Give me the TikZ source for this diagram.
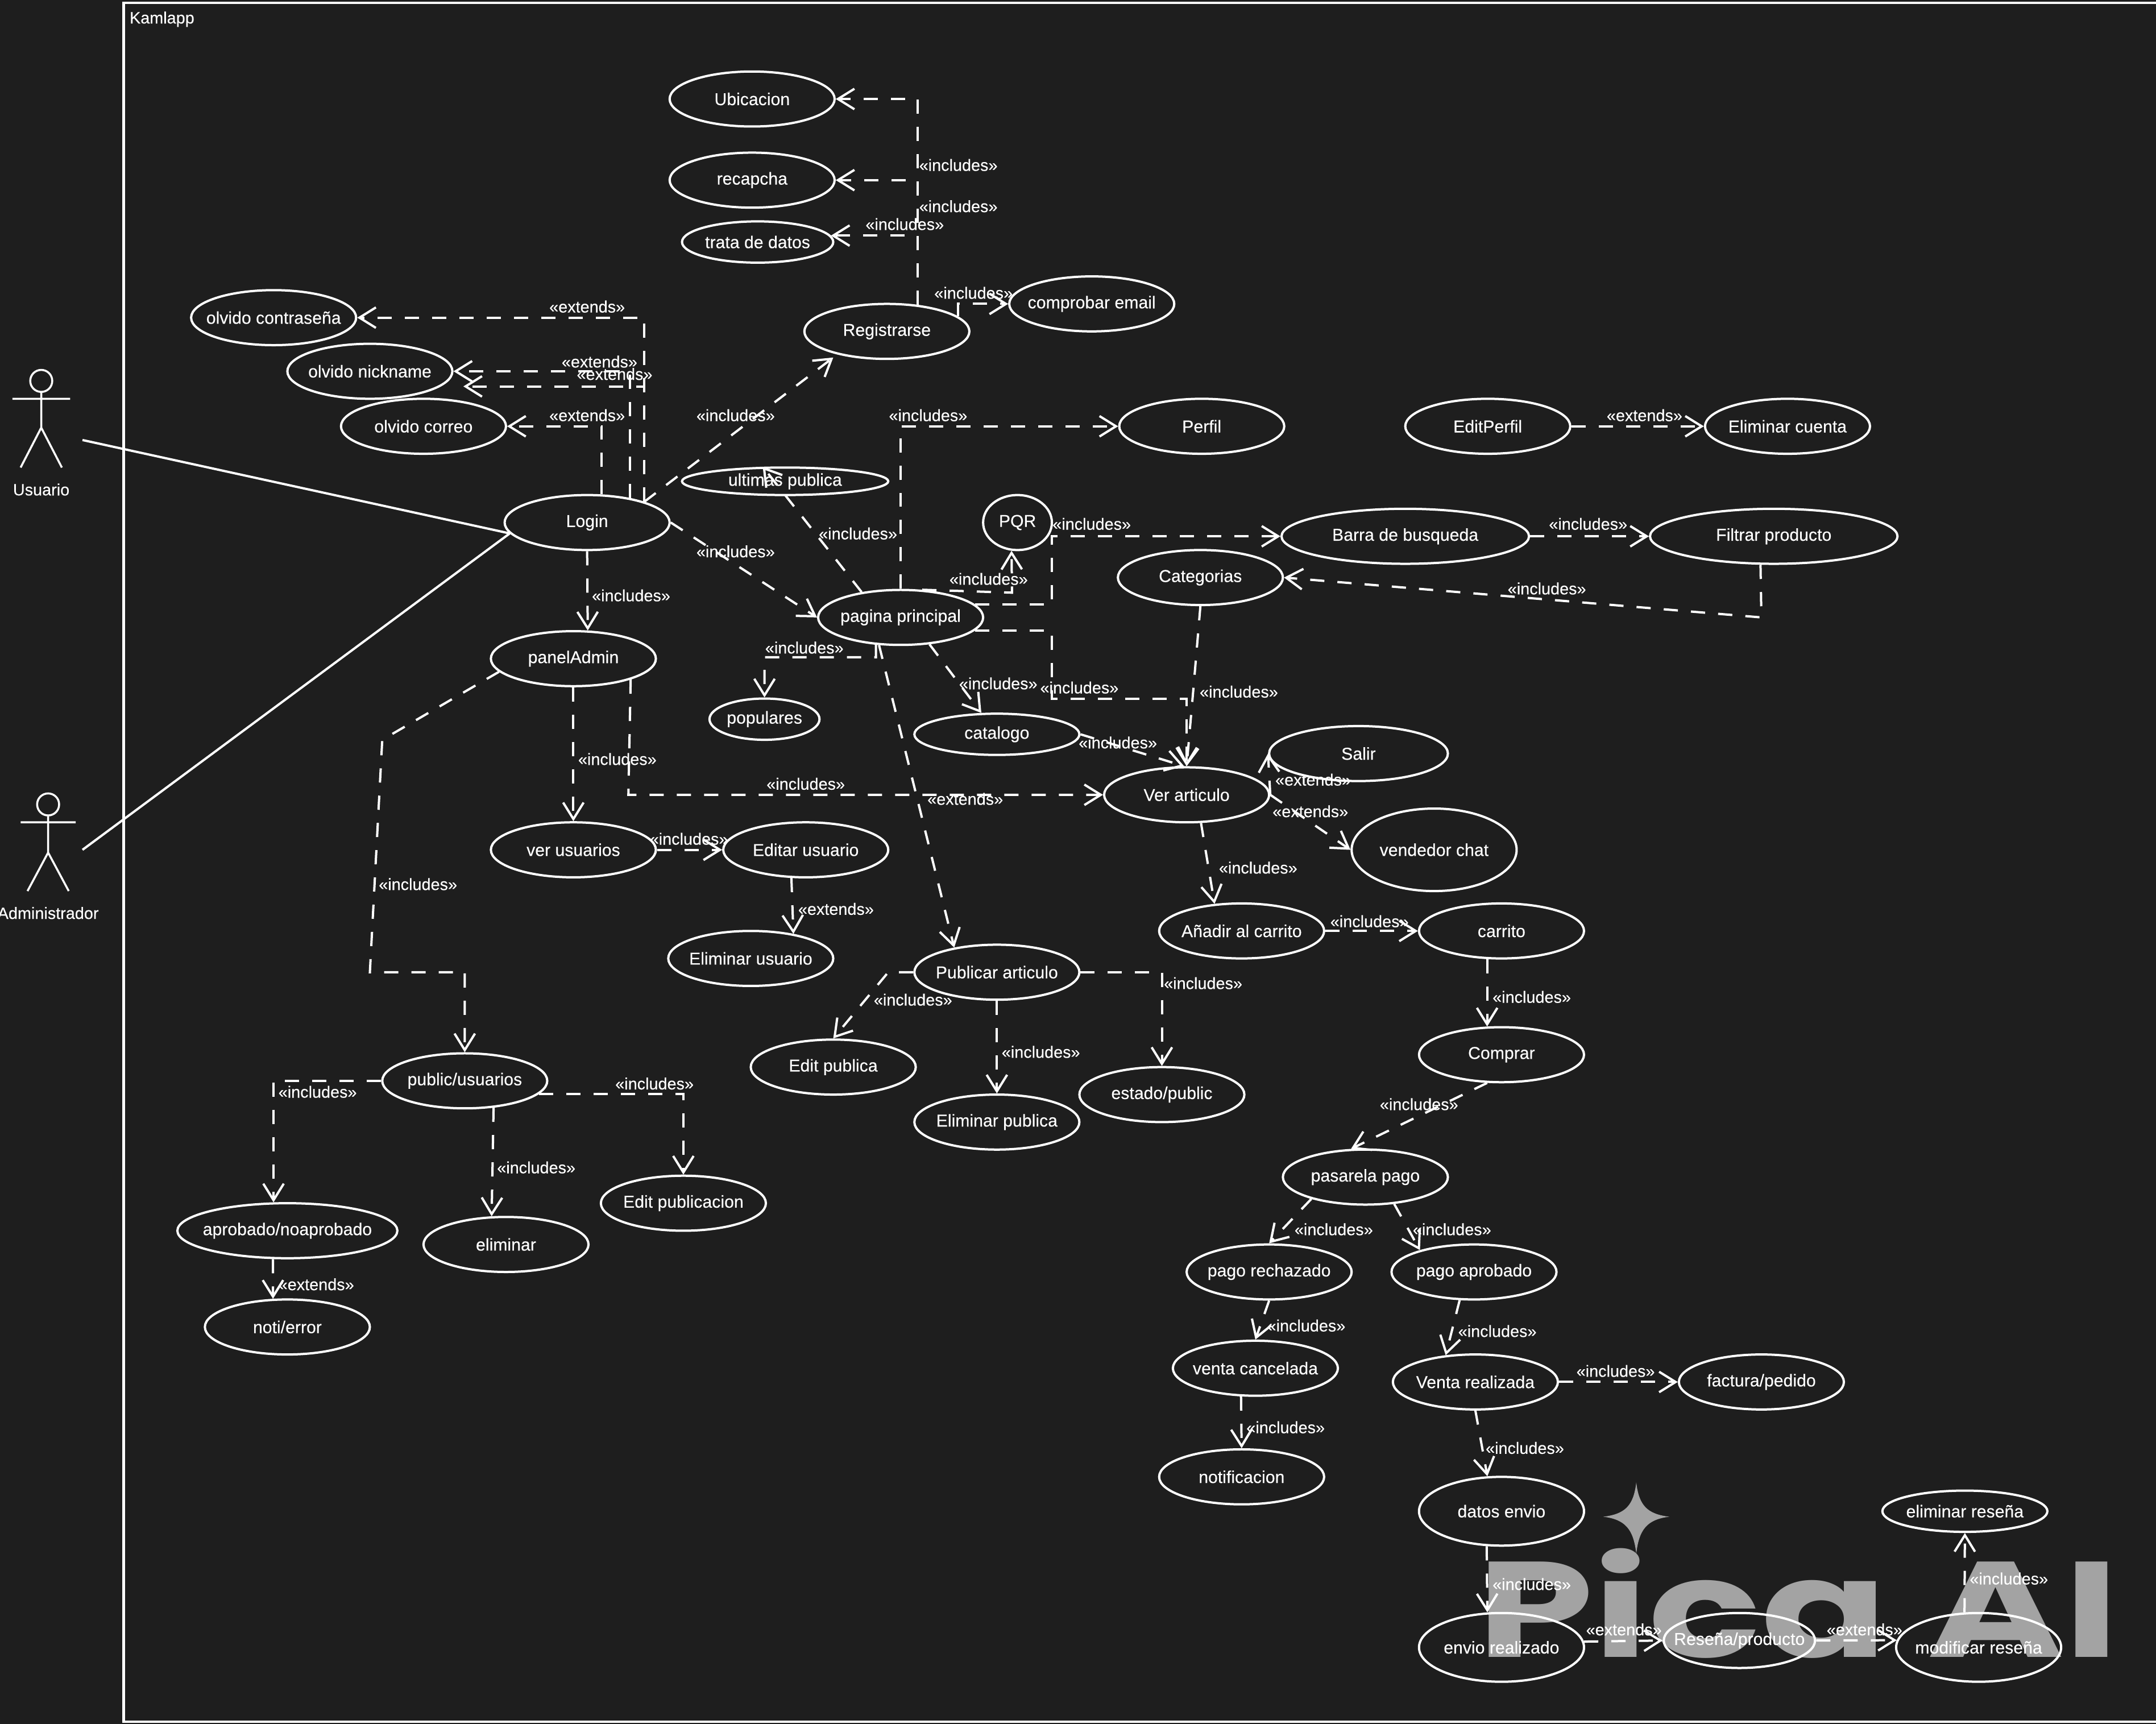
\documentclass[tikz,border=0pt]{standalone}
\usepackage{fontspec}
\setmainfont{Liberation Sans}[FakeBold=0.25]
\newfontfamily\wmfont{Poppins}
\usetikzlibrary{shapes.geometric,arrows.meta}
\definecolor{bgc}{HTML}{1E1E1E}
\definecolor{wmc}{HTML}{A3A3A3}
\newcounter{lc}
\tikzset{
  uc/.style={ellipse,draw=white,line width=0.04cm,inner sep=0pt,text=white,font=\fontsize{8.6}{10}\selectfont},
  sz/.style 2 args={minimum width=#1*0.024184cm,minimum height=#2*0.024184cm},
  lab/.style={inner sep=0pt,text=white,font=\fontsize{8.2}{10}\selectfont},
  dep/.style={draw=white,line width=0.04cm,dash pattern=on 0.25cm off 0.23cm,-{Straight Barb[length=2.9mm,width=3.6mm,line width=0.04cm]}},
  assoc/.style={draw=white,line width=0.04cm},
  fig/.style={draw=white,line width=0.035cm}
}
\newcommand\uc[6]{\node[uc,sz={#4}{#5}] (#1) at (#2,#3) {\makebox[0pt]{\raisebox{-0.02cm}{#6}}};}
\newcommand\inc[2]{\stepcounter{lc}\node[lab] (l\thelc) at (#1,#2) {«includes»};}
\newcommand\ext[2]{\stepcounter{lc}\node[lab] (l\thelc) at (#1,#2) {«extends»};}
\begin{document}
\begin{tikzpicture}[x=0.024184cm,y=-0.024184cm]
\useasboundingbox (0,0) rectangle (1568,1253.7);
\fill[bgc] (0,0) rectangle (1568,1253.7);
% watermark
\node[inner sep=0pt,anchor=base west,text=wmc,font=\wmfont\bfseries\fontsize{68}{70}\selectfont,xscale=1.37] (wm) at (1074,1205) {Pica AI};
\fill[wmc] (1190,1078) .. controls (1192,1095) and (1198,1101) .. (1214,1103) .. controls (1198,1105) and (1192,1112) .. (1190,1130) .. controls (1188,1112) and (1182,1105) .. (1166,1103) .. controls (1182,1101) and (1188,1095) .. (1190,1078) -- cycle;
% frame
\draw[white,line width=0.045cm] (1575,2) -- (90,2) -- (90,1252) -- (1575,1252);
\node[lab,anchor=west] (frametitle) at (94,14) {Kamlapp};
% actors
\node[circle,fig,minimum size=16*0.024184cm,inner sep=0pt] (uhead) at (30,277) {};
\draw[fig] (uhead.south) -- (30,311) (9,290) -- (51,290) (15,340) -- (30,311) -- (45,340);
\node[lab] (uname) at (30,356) {Usuario};
\node[circle,fig,minimum size=16*0.024184cm,inner sep=0pt] (ahead) at (35,585) {};
\draw[fig] (ahead.south) -- (35,620) (15,598) -- (55,598) (20,648) -- (35,620) -- (50,648);
\node[lab] (aname) at (35,664) {Administrador};
\coordinate (uact) at (60,320);
\coordinate (aact) at (60,618);
% use cases
\uc{ubi}{547}{72}{120}{40}{Ubicacion}
\uc{rec}{547}{131}{120}{40}{recapcha}
\uc{tra}{551}{176}{110}{30}{trata de datos}
\uc{ocon}{199}{231}{120}{40}{olvido contraseña}
\uc{onic}{269}{270}{120}{40}{olvido nickname}
\uc{ocor}{308}{310}{120}{40}{olvido correo}
\uc{reg}{645}{241}{120}{40}{Registrarse}
\uc{com}{794}{221}{120}{40}{comprobar email}
\uc{per}{874}{310}{120}{40}{Perfil}
\uc{edp}{1082}{310}{120}{40}{EditPerfil}
\uc{elc}{1300}{310}{120}{40}{Eliminar cuenta}
\uc{ult}{571}{350}{150}{20}{ultimas publica}
\uc{log}{427}{380}{120}{40}{Login}
\uc{pqr}{740}{380}{50}{40}{PQR}
\uc{bar}{1022}{390}{180}{40}{Barra de busqueda}
\uc{fil}{1290}{390}{180}{40}{Filtrar producto}
\uc{cat}{873}{420}{120}{40}{Categorias}
\uc{pag}{655}{449}{120}{40}{pagina principal}
\uc{pan}{417}{479}{120}{40}{panelAdmin}
\uc{pop}{556}{523}{80}{30}{populares}
\uc{ctl}{725}{534}{120}{30}{catalogo}
\uc{sal}{988}{548}{130}{40}{Salir}
\uc{ver}{863}{578}{120}{40}{Ver articulo}
\uc{ven}{1043}{618}{120}{60}{vendedor chat}
\uc{vus}{417}{618}{120}{40}{ver usuarios}
\uc{edu}{586}{618}{120}{40}{Editar usuario}
\uc{ana}{903}{677}{120}{40}{Añadir al carrito}
\uc{car}{1092}{677}{120}{40}{carrito}
\uc{elu}{546}{697}{120}{40}{Eliminar usuario}
\uc{pub}{725}{707}{120}{40}{Publicar articulo}
\uc{cmp}{1092}{767}{120}{40}{Comprar}
\uc{edi}{606}{776}{120}{40}{Edit publica}
\uc{pus}{338}{786}{120}{40}{public/usuarios}
\uc{est}{845}{796}{120}{40}{estado/public}
\uc{elp}{725}{816}{120}{40}{Eliminar publica}
\uc{pas}{993}{856}{120}{40}{pasarela pago}
\uc{epu}{497}{875}{120}{40}{Edit publicacion}
\uc{apr}{209}{895}{160}{40}{aprobado/noaprobado}
\uc{eli}{368}{905}{120}{40}{eliminar}
\uc{pre}{923}{925}{120}{40}{pago rechazado}
\uc{pap}{1072}{925}{120}{40}{pago aprobado}
\uc{not}{209}{965}{120}{40}{noti/error}
\uc{vca}{913}{995}{120}{40}{venta cancelada}
\uc{vre}{1073}{1005}{120}{40}{Venta realizada}
\uc{fac}{1281}{1005}{120}{40}{factura/pedido}
\uc{ntf}{903}{1074}{120}{40}{notificacion}
\uc{dat}{1092}{1099}{120}{50}{datos envio}
\uc{elr}{1429}{1099}{120}{30}{eliminar reseña}
\uc{env}{1092}{1198}{120}{50}{envio realizado}
\uc{res}{1265}{1193}{110}{40}{Reseña/producto}
\uc{mod}{1439}{1198}{120}{50}{modificar reseña}
% free way points
\coordinate (nick2) at (337,281);
\coordinate (regend) at (606,260);
\coordinate (k1) at (278,538);
\coordinate (k2) at (269,707);
\coordinate (k3) at (338,707);
\coordinate (k4) at (736,431);
\coordinate (k5) at (765,400);
\coordinate (k6) at (765,508);
\coordinate (k7) at (1281,449);
\coordinate (k8) at (646,707);
\coordinate (k9) at (637,478);
\coordinate (k10) at (457,578);
\coordinate (k11) at (868,500);
% actors' lines
\draw[assoc] (uact) -- (log.188);
\draw[assoc] (aact) -- (log.188);
% connectors
\draw[dep] (log.20.4) |- (ocon.east);
\draw[dep] (log.30) |- (onic.east);
\draw[dep] (log.20.4) |- (nick2);
\draw[dep] (log.63) |- (ocor.east);
\draw[dep] (log.20.4) -- (regend);
\draw[dep] (log.east) -- (pag.west);
\draw[dep] (log.south) -- (pan.63);
\draw[dep] (pan.190.9) -- (k1) -- (k2) -- (k3) -- (pus.north);
\draw[dep] (pan.south) -- (vus.north);
\draw[dep] (pan.-20.4) -- (k10) -- (ver.west);
\draw[dep] (vus.east) -- (edu.west);
\draw[dep] (edu.243) -- (elu.30);
\draw[dep] (pag.north) |- (per.west);
\draw[dep] (pag.147.8) -- (ult.147);
\draw[dep] (pag.52) -- (k4) -- (pqr.258);
\draw[dep] (pag.10.9) -| (k5) |- (bar.west);
\draw[dep] (pag.-10.9) -| (k6) -- (k6 -| ver.north) -- (ver.north);
\draw[dep] (cat.south) -- (k11) -- (ver.north);
\draw[dep] (bar.east) -- (fil.west);
\draw[dep] (fil.245.7) -- (k7) -- (cat.east);
\draw[dep] (pag.228.5) -- (k9) -| (pop.north);
\draw[dep] (pag.-43.3) -- (ctl.126.7);
\draw[dep] (pag.232) -- (pub.150);
\draw[dep] (ctl.east) -- (ver.95);
\draw[dep] (ver.east) -- (sal.west);
\draw[dep] (ver.east) -- (ven.west);
\draw[dep] (ver.-63) -- (ana.135);
\draw[dep] (ana.east) -- (car.west);
\draw[dep] (car.243) -- (cmp.117);
\draw[dep] (cmp.243) -- (pas.117);
\draw[dep] (pas.202) -- (pre.north);
\draw[dep] (pas.-43.3) -- (pap.158.7);
\draw[dep] (pap.243) -- (vre.138.3);
\draw[dep] (pre.south) -- (vca.north);
\draw[dep] (vca.243) -- (ntf.north);
\draw[dep] (vre.east) -- (fac.west);
\draw[dep] (vre.south) -- (dat.112.1);
\draw[dep] (dat.247.9) -- (env.112.1);
\draw[dep] (env.4.9) -- (res.west);
\draw[dep] (res.east) -- (mod.175.1);
\draw[dep] (mod.112.1) -- (elr.south);
\draw[dep] (pub.west) -- (k8) -- (edi.north);
\draw[dep] (pub.south) -- (elp.north);
\draw[dep] (pub.east) -| (est.north);
\draw[dep] (pus.west) -| (apr.116.8);
\draw[dep] (pus.-43.3) -- (eli.117);
\draw[dep] (pus.-10.9) -| (epu.north);
\draw[dep] (apr.243.2) -- (not.117);
\draw[dep] (edp.east) -- (elc.west);
\draw[dep] (reg.41.7) |- (ubi.east);
\draw[dep] (reg.41.7) |- (rec.east);
\draw[dep] (reg.41.7) |- (tra.5.5);
\draw[dep] (reg.12.5) |- (com.west);
% labels
\ext{427}{223}\ext{436}{263}\ext{447}{272}\ext{427}{302}
\inc{535}{302}\inc{535}{401}\inc{459}{433}\inc{304}{643}\inc{449}{552}\inc{586}{570}\inc{501}{610}
\ext{608}{661}\inc{675}{302}\inc{624}{388}\inc{719}{421}\inc{794}{381}\inc{785}{500}\inc{901}{503}
\inc{1155}{381}\inc{1125}{428}\inc{585}{471}\inc{726}{497}\ext{702}{581}\inc{813}{540}
\ext{955}{567}\ext{953}{590}\inc{915}{631}\inc{996}{670}\inc{1114}{725}\inc{1032}{803}
\inc{970}{894}\inc{1056}{894}\inc{1089}{968}\inc{950}{964}\inc{935}{1038}\inc{1175}{997}
\inc{1109}{1053}\inc{1114}{1152}\ext{1181}{1185}\ext{1356}{1185}\inc{1461}{1148}
\inc{664}{727}\inc{757}{765}\inc{875}{715}\inc{231}{794}\inc{390}{849}\inc{476}{788}\ext{230}{934}
\ext{1196}{302}\inc{697}{120}\inc{697}{150}\inc{658}{163}\inc{708}{213}
\end{tikzpicture}
\end{document}
